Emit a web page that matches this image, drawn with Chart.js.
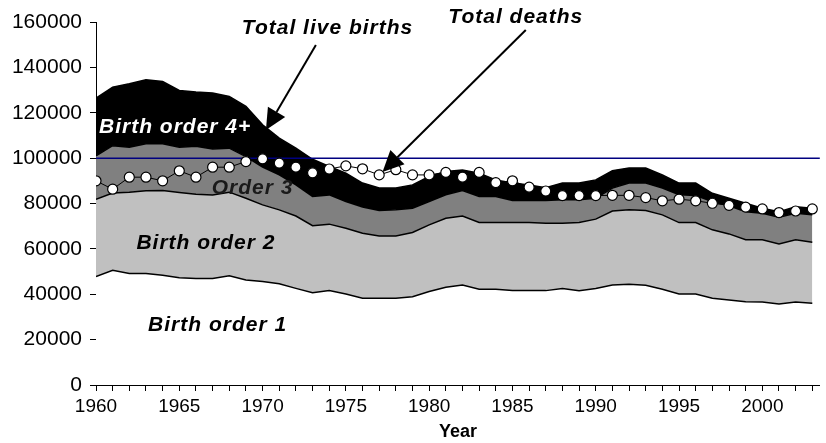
<!DOCTYPE html>
<html>
<head>
<meta charset="utf-8">
<script src="https://cdn.jsdelivr.net/npm/chart.js@4.4.1/dist/chart.umd.min.js"></script>
<style>
    html, body { margin: 0; padding: 0; background: #fff; }
    #wrap { width: 826px; height: 443px; }
</style>
</head>
<body>
<div id="wrap"><canvas id="birthsChart"></canvas></div>
<script>
// years on the category axis
const years = [];
for (let y = 1960; y <= 2003; y++) years.push(y);

// live births by birth order
const birthOrder1 = [47800, 50600, 49100, 49100, 48400, 47300, 46900, 46900, 48100, 46300,
    45600, 44600, 42600, 40700, 41600, 40100, 38200, 38200, 38200, 38900,
    41200, 43100, 44100, 42200, 42200, 41600, 41600, 41600, 42500, 41600,
    42500, 44100, 44400, 44000, 42200, 40100, 40100, 38200, 37500, 36700,
    36600, 35700, 36600, 36000];
const birthOrder2 = [34100, 34000, 35900, 36500, 37300, 37600, 37200, 36800, 36900, 36000,
    33800, 32600, 31900, 29500, 29300, 29000, 28700, 27500, 27500, 28300,
    29400, 30400, 30400, 29400, 29400, 30000, 30000, 29700, 28800, 30000,
    30600, 32600, 32800, 32900, 32800, 31500, 31500, 30200, 29100, 27300,
    27400, 26500, 27400, 26900];
const birthOrder3 = [19100, 20900, 19800, 20700, 20600, 19900, 21100, 20300, 19400, 18400,
    16600, 15400, 13700, 12900, 12900, 11800, 11500, 11200, 11500, 10700,
    10300, 10300, 11200, 11500, 11500, 9700, 9700, 10000, 10300, 10000,
    9200, 10100, 11800, 12100, 11800, 12200, 11900, 12500, 12400, 12400,
    11700, 11800, 11700, 12100];
const birthOrder4 = [25400, 25800, 28000, 28200, 27500, 25000, 23900, 24700, 22800, 22100,
    18700, 16200, 16200, 16400, 12500, 12500, 10600, 9900, 9600, 10300,
    11000, 10300, 9100, 10300, 7300, 7700, 6900, 5700, 7400, 7400,
    8100, 7700, 6600, 6600, 5800, 5200, 5500, 3600, 3300, 3700,
    2200, 2400, 2900, 2900];
const totalDeaths = [90000, 86300, 91600, 91600, 90000, 94400, 91600, 96000, 96000, 98500,
    99700, 97800, 96000, 93500, 95200, 96600, 95300, 92600, 94900, 92600,
    92600, 93700, 91600, 93700, 89200, 90000, 87200, 85500, 83500, 83500,
    83500, 83600, 83600, 82600, 81200, 81900, 81200, 80100, 79200, 78400,
    77600, 76000, 76700, 77600];

const yTicks = [0, 20000, 40000, 60000, 80000, 100000, 120000, 140000, 160000];
const xLabelYears = [1960, 1965, 1970, 1975, 1980, 1985, 1990, 1995, 2000];
const refLevel = 100000;

// text labels and arrows, anchored in data space [year, value]
const notes = [
    { text: "Total live births", at: [1973.9, 157400], color: "#000" },
    { text: "Total deaths", at: [1985.2, 162200], color: "#000" },
    { text: "Birth order 4+", at: [1964.75, 113700], color: "#fff" },
    { text: "Order 3", at: [1969.4, 86900], color: "#1a1a1a" },
    { text: "Birth order 2", at: [1966.6, 62300], color: "#000" },
    { text: "Birth order 1", at: [1967.3, 26400], color: "#000" }
];
const arrows = [
    { from: [1973.2, 149900], to: [1970.2, 112400] },
    { from: [1985.8, 156500], to: [1977.2, 93900] }
];

const FONT = '"Liberation Sans", Arial, sans-serif';
Chart.defaults.font.family = FONT;
Chart.defaults.color = "#000";

function pts(arr) {
    return arr.map((v, i) => ({ x: years[i], y: v }));
}

function areaSet(label, arr, color, fill) {
    return {
        label: label,
        data: pts(arr),
        backgroundColor: color,
        borderColor: "#000",
        borderWidth: 1.5,
        fill: fill,
        stack: "births",
        pointRadius: 0,
        tension: 0
    };
}

const refLinePlugin = {
    id: "refLine",
    beforeDatasetDraw(chart, args) {
        if (args.index !== 0) return;
        const ctx = chart.ctx;
        const y = chart.scales.y.getPixelForValue(refLevel);
        ctx.save();
        ctx.strokeStyle = "#000080";
        ctx.lineWidth = 1.5;
        ctx.beginPath();
        ctx.moveTo(chart.chartArea.left, y);
        ctx.lineTo(chart.chartArea.right, y);
        ctx.stroke();
        ctx.restore();
    }
};

const notesPlugin = {
    id: "notes",
    afterDatasetsDraw(chart) {
        const ctx = chart.ctx;
        const sx = chart.scales.x, sy = chart.scales.y;
        ctx.save();
        // arrows
        arrows.forEach(a => {
            const x1 = sx.getPixelForValue(a.from[0]), y1 = sy.getPixelForValue(a.from[1]);
            const x2 = sx.getPixelForValue(a.to[0]), y2 = sy.getPixelForValue(a.to[1]);
            const ang = Math.atan2(y2 - y1, x2 - x1);
            const len = 21, half = 10;
            const bx = x2 - len * Math.cos(ang), by = y2 - len * Math.sin(ang);
            ctx.strokeStyle = "#000";
            ctx.lineWidth = 2;
            ctx.beginPath();
            ctx.moveTo(x1, y1);
            ctx.lineTo(bx, by);
            ctx.stroke();
            ctx.fillStyle = "#000";
            ctx.beginPath();
            ctx.moveTo(x2, y2);
            ctx.lineTo(bx + half * Math.sin(ang), by - half * Math.cos(ang));
            ctx.lineTo(bx - half * Math.sin(ang), by + half * Math.cos(ang));
            ctx.closePath();
            ctx.fill();
        });
        // text
        ctx.font = "italic bold 21px " + FONT;
        ctx.letterSpacing = "1px";
        ctx.textAlign = "center";
        ctx.textBaseline = "middle";
        notes.forEach(n => {
            ctx.fillStyle = n.color;
            ctx.fillText(n.text, sx.getPixelForValue(n.at[0]), sy.getPixelForValue(n.at[1]));
        });
        ctx.restore();
    }
};

new Chart(document.getElementById("birthsChart"), {
    type: "line",
    data: {
        datasets: [
            {
                label: "Total deaths",
                data: pts(totalDeaths),
                borderColor: "#000",
                borderWidth: 1,
                backgroundColor: "#fff",
                pointBackgroundColor: "#fff",
                pointBorderColor: "#000",
                pointBorderWidth: 1.2,
                pointRadius: 5,
                fill: false,
                stack: "deaths",
                tension: 0
            },
            areaSet("Birth order 1", birthOrder1, "#ffffff", "origin"),
            areaSet("Birth order 2", birthOrder2, "#c0c0c0", "-1"),
            areaSet("Order 3", birthOrder3, "#808080", "-1"),
            areaSet("Birth order 4+", birthOrder4, "#000000", "-1")
        ]
    },
    options: {
        responsive: true,
        maintainAspectRatio: false,
        animation: false,
        layout: { padding: { top: 22, right: 0, left: 0, bottom: 0 } },
        plugins: {
            legend: { display: false },
            tooltip: { enabled: false }
        },
        scales: {
            x: {
                type: "linear",
                min: 1960,
                max: 2003.45,
                afterFit: s => { s.height = 58; },
                border: { color: "#000", width: 1 },
                grid: { drawOnChartArea: false, drawTicks: true, tickLength: 6, color: "#000" },
                ticks: {
                    stepSize: 1,
                    autoSkip: false,
                    includeBounds: false,
                    maxRotation: 0,
                    padding: 4,
                    font: { size: 19 },
                    callback: v => xLabelYears.includes(v) ? String(v) : ""
                },
                title: {
                    display: true,
                    text: "Year",
                    font: { size: 18, weight: "bold" },
                    padding: { top: 0, bottom: 0 }
                }
            },
            y: {
                stacked: true,
                min: 0,
                max: 160000,
                afterFit: s => { s.width = 96; },
                afterBuildTicks: s => { s.ticks = yTicks.map(v => ({ value: v })); },
                border: { color: "#000", width: 1 },
                grid: { drawOnChartArea: false, drawTicks: true, tickLength: 6, color: "#000" },
                ticks: {
                    padding: 8,
                    font: { size: 21 },
                    callback: v => String(v)
                }
            }
        }
    },
    plugins: [refLinePlugin, notesPlugin]
});
</script>
</body>
</html>
